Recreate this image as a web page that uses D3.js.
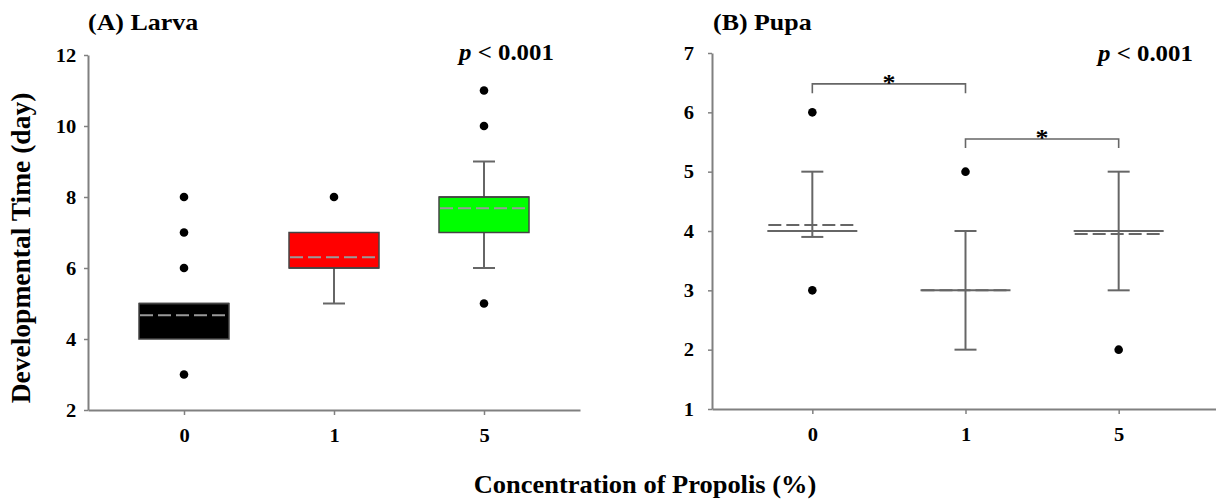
<!DOCTYPE html>
<html>
<head>
<meta charset="utf-8">
<script src="https://cdn.jsdelivr.net/npm/d3@7"></script>
<style>
  body { margin: 0; background: #fff; }
  svg { display: block; }
</style>
</head>
<body>
<div id="chart"></div>
<script>
// Developmental time of larva / pupa by propolis concentration

// ---- data ----
const categories = ["0", "1", "5"]

// (A) Larva
const larvaQ1 = [4, 6, 7]
const larvaQ3 = [5, 7, 8]
const larvaMedian = [5, 6, 8]
const larvaMean = [4.67, 6.3, 7.68]
const larvaLow = [4, 5, 6]
const larvaHigh = [5, 7, 9]
const larvaOutliers = [[3, 6, 7, 8], [8], [5, 10, 11]]
const larvaTicks = [2, 4, 6, 8, 10, 12]

// (B) Pupa
const pupaQ1 = [4, 3, 4]
const pupaQ3 = [4, 3, 4]
const pupaMedian = [4, 3, 4]
const pupaMean = [4.1, 3, 3.95]
const pupaLow = [3.9, 2, 3]
const pupaHigh = [5, 4, 5]
const pupaOutliers = [[3, 6], [5], [2]]
const pupaTicks = [1, 2, 3, 4, 5, 6, 7]

// significance brackets (pupa)
const bracketFrom = ["0", "1"]
const bracketTo = ["1", "5"]
const bracketTop = [6.48, 5.55]
const bracketLeg = [6.32, 5.40]

// ---- config ----
const CONFIG = {
  width: 1216,
  height: 502,
  font: "'Liberation Serif', 'Times New Roman', serif",
  stretch: 1.08,         // text in the source is a bit wide
  colors: {
    axis: "#808080",
    line: "#666",
    boxStroke: "#444",
    mean: "#999",
    text: "#000"
  },
  boxWidth: 90,
  capWidth: 22,
  panels: {
    A: { xRange: [88, 580], pad: 0.64, yDomain: [2, 12], yRange: [410, 55], ytickPad: 7.7,
         fills: ["#000000", "#ff0000", "#00ff00"] },
    B: { xRange: [712, 1219], pad: 0.655, yDomain: [1, 7], yRange: [409, 53], ytickPad: 14,
         fills: ["none", "none", "none"] }
  }
}

const svg = d3.select("#chart").append("svg")
  .attr("width", CONFIG.width)
  .attr("height", CONFIG.height)
  .style("font-family", CONFIG.font)
  .style("font-weight", "bold")

// widen text horizontally around its own anchor
function stretchText(sel) {
  sel.each(function () {
    const t = d3.select(this)
    const x = +t.attr("x") || 0
    const y = +t.attr("y") || 0
    t.attr("x", 0).attr("y", 0)
      .attr("transform", `translate(${x},${y}) scale(${CONFIG.stretch},1)`)
  })
}

function makeRows(q1, q3, med, mean, low, high, outl) {
  return categories.map((c, i) => ({
    cat: c, q1: q1[i], q3: q3[i], median: med[i], mean: mean[i],
    low: low[i], high: high[i], outliers: outl[i], idx: i
  }))
}

function drawPanel(key, rows, ticks) {
  const P = CONFIG.panels[key]
  const x = d3.scalePoint().domain(categories).range(P.xRange).padding(P.pad)
  const y = d3.scaleLinear().domain(P.yDomain).range(P.yRange)
  const g = svg.append("g")
  const bw = CONFIG.boxWidth, cw = CONFIG.capWidth

  // axes
  const yAxis = g.append("g")
    .attr("transform", `translate(${P.xRange[0]},0)`)
    .call(d3.axisLeft(y).tickValues(ticks).tickFormat(d3.format("d"))
      .tickSize(4).tickSizeOuter(0).tickPadding(P.ytickPad))
  const xAxis = g.append("g")
    .attr("transform", `translate(0,${P.yRange[0]})`)
    .call(d3.axisBottom(x).tickSize(5).tickSizeOuter(0).tickPadding(14))
  for (const ax of [yAxis, xAxis]) {
    ax.select(".domain").attr("stroke", CONFIG.colors.axis).attr("stroke-width", 2)
    ax.selectAll(".tick line").attr("stroke", CONFIG.colors.axis).attr("stroke-width", 1.5)
    ax.selectAll(".tick text")
      .attr("fill", CONFIG.colors.text)
      .style("font-size", "19px")
      .style("font-family", CONFIG.font)
      .style("font-weight", "bold")
      .call(stretchText)
  }

  const box = g.selectAll(".box").data(rows).join("g").attr("class", "box")

  // whiskers (only where they leave the box)
  box.each(function (d) {
    const s = d3.select(this)
    const cx = x(d.cat)
    const parts = []
    if (d.high > d.q3) parts.push([d.q3, d.high])
    if (d.low < d.q1) parts.push([d.q1, d.low])
    parts.forEach(([a, b]) => {
      s.append("line").attr("x1", cx).attr("x2", cx).attr("y1", y(a)).attr("y2", y(b))
        .attr("stroke", CONFIG.colors.line).attr("stroke-width", 2)
      s.append("line").attr("x1", cx - cw / 2).attr("x2", cx + cw / 2).attr("y1", y(b)).attr("y2", y(b))
        .attr("stroke", CONFIG.colors.line).attr("stroke-width", 2)
    })
  })

  // boxes
  box.append("rect")
    .attr("x", d => x(d.cat) - bw / 2)
    .attr("width", bw)
    .attr("y", d => y(d.q3))
    .attr("height", d => y(d.q1) - y(d.q3))
    .attr("fill", d => P.fills[d.idx])
    .attr("stroke", key === "A" ? CONFIG.colors.boxStroke : CONFIG.colors.line)
    .attr("stroke-width", key === "A" ? 1.5 : 2)

  // mean (dashed) then median
  box.append("line")
    .attr("x1", d => x(d.cat) - bw / 2 + 1).attr("x2", d => x(d.cat) + bw / 2 - 1)
    .attr("y1", d => y(d.mean)).attr("y2", d => y(d.mean))
    .attr("stroke", key === "A" ? CONFIG.colors.mean : CONFIG.colors.line)
    .attr("stroke-width", 2)
    .attr("stroke-dasharray", "13,5")
  box.append("line")
    .attr("x1", d => x(d.cat) - bw / 2).attr("x2", d => x(d.cat) + bw / 2)
    .attr("y1", d => y(d.median)).attr("y2", d => y(d.median))
    .attr("stroke", key === "A" ? CONFIG.colors.boxStroke : CONFIG.colors.line)
    .attr("stroke-width", key === "A" ? 1.5 : 2)

  // outliers
  box.selectAll("circle")
    .data(d => d.outliers.map(v => ({ cat: d.cat, v })))
    .join("circle")
    .attr("cx", d => x(d.cat))
    .attr("cy", d => y(d.v))
    .attr("r", 4.3)
    .attr("fill", "#000")

  return { g, x, y }
}

// ---- panel A ----
drawPanel("A", makeRows(larvaQ1, larvaQ3, larvaMedian, larvaMean, larvaLow, larvaHigh, larvaOutliers), larvaTicks)

// ---- panel B ----
const pb = drawPanel("B", makeRows(pupaQ1, pupaQ3, pupaMedian, pupaMean, pupaLow, pupaHigh, pupaOutliers), pupaTicks)

// significance brackets
bracketFrom.forEach((f, i) => {
  const x1 = pb.x(f), x2 = pb.x(bracketTo[i])
  const yt = pb.y(bracketTop[i]), yl = pb.y(bracketLeg[i])
  pb.g.append("path")
    .attr("d", `M${x1},${yl}V${yt}H${x2}V${yl}`)
    .attr("fill", "none")
    .attr("stroke", CONFIG.colors.line)
    .attr("stroke-width", 1.6)
  pb.g.append("text")
    .attr("x", (x1 + x2) / 2)
    .attr("y", yt + 6)
    .attr("text-anchor", "middle")
    .style("font-size", "24px")
    .text("*")
    .call(stretchText)
})

// ---- titles and labels ----
function label(txt, x, y, size, anchor) {
  return svg.append("text")
    .attr("x", x).attr("y", y)
    .attr("text-anchor", anchor || "start")
    .attr("fill", CONFIG.colors.text)
    .style("font-size", size + "px")
    .text(txt)
    .call(stretchText)
}

label("(A) Larva", 88, 29.5, 24)
label("(B) Pupa", 713, 30, 24)

function pLabel(x, y) {
  const t = svg.append("text").attr("x", x).attr("y", y)
    .attr("fill", CONFIG.colors.text).style("font-size", "23px")
  t.append("tspan").style("font-style", "italic").text("p")
  t.append("tspan").text(" < 0.001")
  t.call(stretchText)
}
pLabel(459, 60)
pLabel(1098, 61)

label("Concentration of Propolis (%)", 645, 493, 24.5, "middle")

svg.append("text")
  .attr("transform", "translate(30,248) rotate(-90)")
  .attr("text-anchor", "middle")
  .attr("fill", CONFIG.colors.text)
  .style("font-size", "27.5px")
  .text("Developmental Time (day)")
</script>
</body>
</html>
